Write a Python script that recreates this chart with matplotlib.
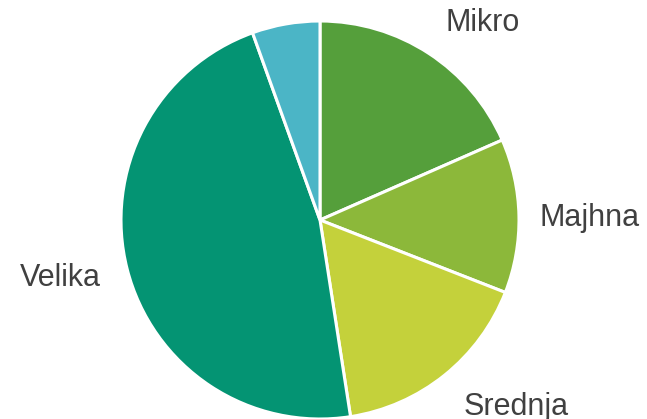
import matplotlib.pyplot as plt

# share of companies by size (in %)
labels = ["Mikro", "Majhna", "Srednja", "Velika", ""]
shares = [18.4, 12.5, 16.6, 46.9, 5.5]
colors = ["#559F3B", "#8CB83A", "#C4D13B", "#049473", "#4BB5C6"]

fig = plt.figure(figsize=(6.47, 4.19), dpi=100)
ax = fig.add_axes([0, 0, 1, 1])

wedges, texts = ax.pie(shares, labels=labels, colors=colors, startangle=90,
                       counterclock=False, center=(320, 199), radius=199,
                       wedgeprops=dict(edgecolor="white", linewidth=2.2),
                       textprops=dict(fontsize=22, color="#404040",
                                      family="Liberation Sans"),
                       frame=True)

# move the labels where the original has them
label_pos = [(483, 396), (590, 201), (516, 12), (60, 141)]
for t, p in zip(texts, label_pos):
    t.set_position(p)
    t.set_ha("center")
    t.set_va("center")

ax.set_xlim(0, 647)
ax.set_ylim(0, 419)
ax.set_aspect("equal")
ax.axis("off")

fig.savefig("out.png", dpi=100)
